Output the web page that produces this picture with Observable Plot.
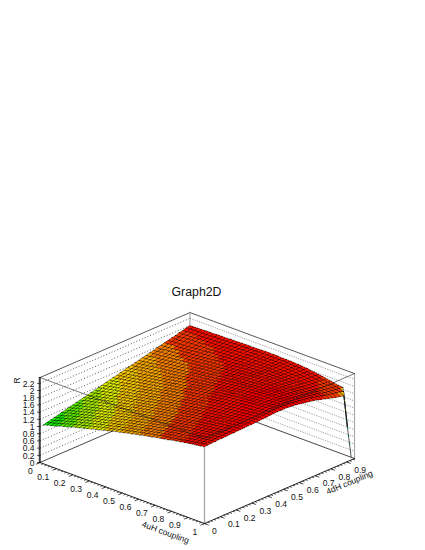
<!DOCTYPE html>
<html><head><meta charset="utf-8">
<style>html,body{margin:0;padding:0;background:#fff}</style>
<script src="https://cdn.jsdelivr.net/npm/d3@7"></script>
<script src="https://cdn.jsdelivr.net/npm/@observablehq/plot@0.6"></script>
</head><body><div id="chart"></div>
<script>
const title = "Graph2D";
const uTitle = "4uH coupling", vTitle = "4dH coupling", zTitle = "R";
const uMajor = [0,0.1,0.2,0.3,0.4,0.5,0.6,0.7,0.8,0.9,1];
const vMajor = [0,0.1,0.2,0.3,0.4,0.5,0.6,0.7,0.8,0.9];
const zMajor = [0,0.2,0.4,0.6,0.8,1,1.2,1.4,1.6,1.8,2,2.2];
const uMax = 1, vMax = 0.95, zMax = 2.36;
const uFirst = 0, uLast = 0.98, vFirst = 0.02, vLast = 0.95;
const levels = [0.115,0.23,0.345,0.46,0.575,0.69,0.805,0.92,1.035,1.15,1.265,1.38,1.495,1.61,1.725,1.84,1.955,2.07,2.185];
const palette = ["#6a00c8","#3c00e6","#0000ff","#0050ff","#0098ff","#00d8f0","#00f0b0","#00f070","#00f000","#18f000","#60f000","#a8f000","#e0f000","#f8c800","#f8a800","#f88000","#f83800","#f81000","#ff0000","#ff0000"];
// R: one row per 4uH grid step, one value per 4dH grid step
const R = [
[1.00,1.03,1.05,1.08,1.10,1.13,1.15,1.18,1.20,1.23,1.25,1.28,1.30,1.33,1.35,1.38,1.40,1.43,1.45,1.48,1.50,1.53,1.55,1.58,1.60,1.63,1.65,1.68,1.70,1.73,1.75,1.78,1.80,1.83,1.85,1.88,1.90,1.93,1.95,1.98,2.00],
[1.04,1.06,1.08,1.11,1.13,1.16,1.18,1.20,1.23,1.25,1.28,1.30,1.32,1.35,1.37,1.40,1.42,1.45,1.47,1.49,1.52,1.54,1.57,1.59,1.61,1.64,1.66,1.69,1.71,1.74,1.76,1.78,1.81,1.83,1.86,1.88,1.90,1.93,1.95,1.98,2.00],
[1.07,1.09,1.12,1.14,1.16,1.19,1.21,1.24,1.26,1.28,1.31,1.33,1.35,1.38,1.40,1.42,1.45,1.47,1.49,1.52,1.54,1.56,1.59,1.61,1.63,1.66,1.68,1.70,1.73,1.75,1.78,1.80,1.82,1.85,1.87,1.89,1.92,1.94,1.96,1.99,2.01],
[1.10,1.13,1.15,1.17,1.20,1.22,1.24,1.26,1.29,1.31,1.33,1.35,1.38,1.40,1.42,1.45,1.47,1.49,1.51,1.54,1.56,1.58,1.60,1.63,1.65,1.67,1.69,1.72,1.74,1.76,1.78,1.81,1.83,1.85,1.87,1.90,1.92,1.94,1.96,1.99,2.01],
[1.14,1.16,1.18,1.20,1.23,1.25,1.27,1.29,1.31,1.34,1.36,1.38,1.40,1.42,1.45,1.47,1.49,1.51,1.53,1.56,1.58,1.60,1.62,1.65,1.67,1.69,1.71,1.73,1.75,1.78,1.80,1.82,1.84,1.86,1.88,1.91,1.93,1.95,1.97,1.99,2.02],
[1.17,1.19,1.22,1.24,1.26,1.28,1.30,1.32,1.34,1.36,1.39,1.41,1.43,1.45,1.47,1.49,1.51,1.54,1.56,1.58,1.60,1.62,1.64,1.66,1.69,1.71,1.73,1.75,1.77,1.79,1.81,1.83,1.85,1.87,1.89,1.92,1.94,1.96,1.98,2.00,2.02],
[1.20,1.23,1.25,1.27,1.29,1.31,1.33,1.35,1.37,1.39,1.41,1.43,1.45,1.47,1.49,1.51,1.54,1.56,1.58,1.60,1.62,1.64,1.66,1.68,1.70,1.72,1.74,1.76,1.78,1.80,1.82,1.84,1.86,1.88,1.90,1.92,1.94,1.96,1.98,2.00,2.02],
[1.24,1.26,1.28,1.30,1.32,1.34,1.36,1.38,1.40,1.42,1.44,1.46,1.48,1.50,1.52,1.54,1.56,1.58,1.60,1.62,1.64,1.66,1.68,1.70,1.72,1.74,1.76,1.78,1.80,1.82,1.84,1.86,1.88,1.89,1.91,1.93,1.95,1.97,1.99,2.01,2.03],
[1.27,1.29,1.31,1.33,1.35,1.37,1.39,1.41,1.42,1.44,1.46,1.48,1.50,1.52,1.54,1.56,1.58,1.60,1.62,1.64,1.66,1.68,1.70,1.72,1.74,1.75,1.77,1.79,1.81,1.83,1.85,1.87,1.88,1.90,1.92,1.94,1.96,1.98,1.99,2.01,2.03],
[1.30,1.32,1.34,1.36,1.38,1.39,1.41,1.43,1.45,1.47,1.49,1.51,1.53,1.55,1.56,1.58,1.60,1.62,1.64,1.66,1.68,1.70,1.71,1.73,1.75,1.77,1.79,1.80,1.82,1.84,1.86,1.87,1.89,1.91,1.92,1.94,1.96,1.98,1.99,2.01,2.03],
[1.33,1.35,1.37,1.39,1.41,1.42,1.44,1.46,1.48,1.50,1.52,1.53,1.55,1.57,1.59,1.61,1.63,1.64,1.66,1.68,1.70,1.72,1.73,1.75,1.77,1.79,1.80,1.82,1.84,1.85,1.87,1.89,1.90,1.92,1.94,1.95,1.97,1.98,2.00,2.02,2.04],
[1.36,1.38,1.40,1.42,1.43,1.45,1.47,1.49,1.51,1.52,1.54,1.56,1.58,1.59,1.61,1.63,1.65,1.67,1.68,1.70,1.72,1.74,1.75,1.77,1.79,1.80,1.82,1.84,1.85,1.87,1.88,1.90,1.91,1.93,1.95,1.96,1.98,1.99,2.01,2.02,2.04],
[1.39,1.41,1.43,1.44,1.46,1.48,1.50,1.51,1.53,1.55,1.56,1.58,1.60,1.62,1.63,1.65,1.67,1.69,1.70,1.72,1.74,1.75,1.77,1.79,1.80,1.82,1.83,1.85,1.86,1.88,1.89,1.91,1.92,1.94,1.95,1.97,1.98,2.00,2.01,2.03,2.04],
[1.42,1.44,1.46,1.47,1.49,1.51,1.52,1.54,1.56,1.57,1.59,1.61,1.62,1.64,1.66,1.67,1.69,1.71,1.72,1.74,1.76,1.77,1.79,1.81,1.82,1.84,1.85,1.87,1.88,1.89,1.91,1.92,1.93,1.95,1.96,1.97,1.99,2.00,2.02,2.03,2.05],
[1.45,1.47,1.48,1.50,1.52,1.53,1.55,1.57,1.58,1.60,1.62,1.63,1.65,1.66,1.68,1.70,1.71,1.73,1.75,1.76,1.78,1.80,1.81,1.83,1.84,1.86,1.87,1.88,1.90,1.91,1.92,1.93,1.95,1.96,1.97,1.98,2.00,2.01,2.02,2.04,2.05],
[1.48,1.50,1.51,1.53,1.54,1.56,1.58,1.59,1.61,1.62,1.64,1.66,1.67,1.69,1.70,1.72,1.73,1.75,1.77,1.78,1.80,1.81,1.83,1.84,1.86,1.87,1.88,1.89,1.91,1.92,1.93,1.94,1.96,1.97,1.98,1.99,2.00,2.01,2.03,2.04,2.05],
[1.51,1.52,1.54,1.55,1.57,1.59,1.60,1.62,1.63,1.65,1.66,1.68,1.69,1.71,1.72,1.74,1.76,1.77,1.79,1.80,1.82,1.83,1.85,1.86,1.87,1.89,1.90,1.91,1.92,1.93,1.94,1.95,1.96,1.97,1.98,1.99,2.00,2.02,2.03,2.04,2.05],
[1.54,1.55,1.57,1.58,1.60,1.61,1.63,1.64,1.66,1.67,1.69,1.70,1.72,1.73,1.75,1.76,1.78,1.79,1.81,1.82,1.84,1.85,1.86,1.88,1.89,1.90,1.91,1.92,1.93,1.94,1.95,1.96,1.97,1.98,1.99,2.00,2.01,2.02,2.03,2.04,2.05],
[1.57,1.58,1.59,1.61,1.62,1.64,1.65,1.67,1.68,1.70,1.71,1.73,1.74,1.75,1.77,1.78,1.80,1.81,1.83,1.84,1.86,1.87,1.88,1.89,1.91,1.92,1.93,1.94,1.95,1.96,1.97,1.98,1.98,1.99,2.00,2.01,2.02,2.03,2.04,2.05,2.06],
[1.59,1.61,1.62,1.63,1.65,1.66,1.68,1.69,1.70,1.72,1.73,1.75,1.76,1.78,1.79,1.80,1.82,1.83,1.85,1.86,1.88,1.89,1.90,1.91,1.92,1.93,1.94,1.95,1.96,1.97,1.98,1.98,1.99,2.00,2.00,2.01,2.02,2.03,2.04,2.05,2.06],
[1.62,1.63,1.65,1.66,1.67,1.69,1.70,1.71,1.73,1.74,1.76,1.77,1.78,1.80,1.81,1.82,1.84,1.85,1.87,1.88,1.90,1.91,1.92,1.93,1.94,1.95,1.96,1.97,1.97,1.98,1.99,1.99,2.00,2.01,2.01,2.02,2.02,2.03,2.04,2.05,2.06],
[1.65,1.66,1.67,1.68,1.70,1.71,1.72,1.74,1.75,1.77,1.78,1.79,1.81,1.82,1.83,1.85,1.86,1.87,1.89,1.90,1.92,1.93,1.94,1.95,1.96,1.97,1.97,1.98,1.99,1.99,2.00,2.00,2.01,2.01,2.02,2.02,2.03,2.04,2.04,2.05,2.06],
[1.67,1.68,1.70,1.71,1.72,1.74,1.75,1.76,1.78,1.79,1.80,1.81,1.83,1.84,1.85,1.87,1.88,1.89,1.91,1.92,1.93,1.94,1.95,1.96,1.97,1.98,1.99,1.99,2.00,2.01,2.01,2.01,2.02,2.02,2.02,2.03,2.03,2.04,2.04,2.05,2.06],
[1.70,1.71,1.72,1.73,1.75,1.76,1.77,1.78,1.80,1.81,1.82,1.83,1.85,1.86,1.87,1.89,1.90,1.91,1.92,1.94,1.95,1.96,1.97,1.98,1.99,2.00,2.00,2.01,2.01,2.01,2.02,2.02,2.02,2.02,2.03,2.03,2.03,2.04,2.04,2.05,2.05],
[1.72,1.73,1.75,1.76,1.77,1.78,1.79,1.81,1.82,1.83,1.84,1.86,1.87,1.88,1.89,1.91,1.92,1.93,1.95,1.96,1.97,1.98,1.99,2.00,2.00,2.01,2.02,2.02,2.03,2.03,2.03,2.03,2.03,2.03,2.03,2.03,2.04,2.04,2.04,2.05,2.05],
[1.75,1.76,1.77,1.78,1.79,1.81,1.82,1.83,1.84,1.85,1.87,1.88,1.89,1.90,1.91,1.93,1.94,1.95,1.96,1.98,1.99,2.00,2.01,2.01,2.02,2.03,2.03,2.03,2.04,2.04,2.04,2.04,2.04,2.04,2.04,2.04,2.04,2.04,2.05,2.05,2.05],
[1.77,1.78,1.79,1.80,1.82,1.83,1.84,1.85,1.86,1.87,1.88,1.90,1.91,1.92,1.93,1.94,1.95,1.97,1.98,1.99,2.00,2.01,2.02,2.02,2.03,2.04,2.04,2.04,2.04,2.04,2.05,2.04,2.04,2.04,2.04,2.03,2.03,2.04,2.04,2.04,2.04],
[1.79,1.80,1.82,1.83,1.84,1.85,1.86,1.87,1.88,1.89,1.91,1.92,1.93,1.94,1.95,1.96,1.97,1.99,2.00,2.01,2.02,2.03,2.03,2.04,2.05,2.05,2.05,2.05,2.05,2.05,2.05,2.05,2.05,2.04,2.04,2.03,2.03,2.03,2.03,2.03,2.04],
[1.82,1.83,1.84,1.85,1.86,1.87,1.88,1.89,1.90,1.91,1.93,1.94,1.95,1.96,1.97,1.98,1.99,2.00,2.01,2.03,2.04,2.04,2.05,2.06,2.06,2.07,2.07,2.06,2.06,2.06,2.06,2.06,2.05,2.04,2.04,2.03,2.03,2.03,2.03,2.03,2.03],
[1.84,1.85,1.86,1.87,1.88,1.89,1.90,1.91,1.92,1.93,1.94,1.95,1.96,1.97,1.98,1.99,2.01,2.02,2.03,2.04,2.05,2.06,2.06,2.06,2.07,2.07,2.07,2.07,2.07,2.06,2.06,2.05,2.05,2.04,2.03,2.03,2.02,2.02,2.02,2.02,2.02],
[1.86,1.87,1.88,1.89,1.90,1.91,1.92,1.93,1.94,1.95,1.96,1.97,1.98,1.99,2.00,2.01,2.02,2.03,2.04,2.05,2.06,2.07,2.07,2.07,2.08,2.08,2.08,2.07,2.07,2.07,2.06,2.05,2.05,2.04,2.03,2.02,2.02,2.01,2.01,2.00,2.00],
[1.88,1.89,1.90,1.91,1.92,1.93,1.94,1.95,1.96,1.97,1.98,1.99,1.99,2.00,2.01,2.02,2.03,2.04,2.05,2.06,2.08,2.08,2.08,2.08,2.09,2.09,2.08,2.08,2.07,2.07,2.06,2.05,2.04,2.03,2.02,2.01,2.01,2.00,2.00,1.99,1.99],
[1.91,1.91,1.92,1.93,1.94,1.95,1.96,1.97,1.98,1.98,1.99,2.00,2.01,2.02,2.03,2.04,2.05,2.06,2.07,2.08,2.09,2.09,2.09,2.09,2.10,2.10,2.09,2.08,2.08,2.07,2.06,2.05,2.04,2.03,2.02,2.00,2.00,1.99,1.98,1.98,1.97],
[1.93,1.93,1.94,1.95,1.96,1.97,1.98,1.98,1.99,2.00,2.01,2.02,2.03,2.03,2.04,2.05,2.06,2.07,2.08,2.09,2.10,2.10,2.10,2.10,2.10,2.10,2.09,2.09,2.08,2.07,2.06,2.05,2.03,2.02,2.01,1.99,1.98,1.97,1.97,1.96,1.95],
[1.95,1.95,1.96,1.97,1.98,1.98,1.99,2.00,2.01,2.02,2.02,2.03,2.04,2.05,2.05,2.06,2.07,2.08,2.09,2.10,2.11,2.11,2.11,2.11,2.11,2.11,2.10,2.09,2.08,2.07,2.06,2.04,2.03,2.01,1.99,1.98,1.97,1.96,1.95,1.94,1.93],
[1.97,1.97,1.98,1.99,1.99,2.00,2.01,2.02,2.02,2.03,2.04,2.05,2.05,2.06,2.07,2.07,2.08,2.09,2.10,2.11,2.12,2.12,2.12,2.11,2.11,2.11,2.10,2.09,2.08,2.07,2.06,2.04,2.02,2.00,1.98,1.97,1.96,1.94,1.93,1.92,1.91],
[1.99,1.99,2.00,2.01,2.01,2.02,2.03,2.03,2.04,2.05,2.05,2.06,2.07,2.07,2.08,2.09,2.10,2.10,2.11,2.12,2.13,2.13,2.12,2.12,2.12,2.12,2.10,2.09,2.08,2.07,2.05,2.03,2.01,1.99,1.97,1.95,1.94,1.93,1.92,1.90,1.89],
[2.01,2.01,2.02,2.02,2.03,2.04,2.04,2.05,2.05,2.06,2.07,2.07,2.08,2.09,2.09,2.10,2.11,2.12,2.12,2.13,2.14,2.14,2.13,2.13,2.13,2.12,2.11,2.09,2.08,2.07,2.05,2.03,2.01,1.99,1.96,1.94,1.93,1.91,1.90,1.88,1.87],
[2.02,2.03,2.03,2.04,2.05,2.05,2.06,2.07,2.07,2.08,2.08,2.09,2.10,2.10,2.11,2.11,2.12,2.13,2.14,2.14,2.15,2.15,2.15,2.14,2.14,2.13,2.11,2.10,2.08,2.07,2.05,2.03,2.01,1.98,1.96,1.93,1.92,1.90,1.89,1.87,1.86],
[2.04,2.05,2.05,2.06,2.06,2.07,2.07,2.08,2.08,2.09,2.10,2.10,2.11,2.11,2.12,2.12,2.13,2.14,2.14,2.15,2.16,2.16,2.16,2.15,2.15,2.13,2.12,2.10,2.08,2.07,2.05,2.02,2.00,1.97,1.94,1.92,1.90,1.88,1.86,1.83,0.80],
[2.06,2.06,2.07,2.07,2.08,2.08,2.08,2.09,2.09,2.10,2.10,2.10,2.11,2.11,2.12,2.12,2.13,2.13,2.14,2.15,2.15,2.15,2.15,2.14,2.13,2.12,2.10,2.08,2.06,2.04,2.02,1.99,1.96,1.93,1.90,1.87,1.84,1.82,1.79,0.90,0.00]
];

const px = (u, v) => 39.5 + 164.5 * u + 157.9 * v;
const py = (u, v, z) => 462 + 61 * u - 68.4 * v - 36 * z;
const pt = (u, v, z) => ({x: px(u, v), y: py(u, v, z)});
const seg = (a, b) => [pt(...a), pt(...b)];
const n = R.length - 1, m = R[0].length - 1;
const uAt = i => uFirst + (uLast - uFirst) * i / n;
const vAt = j => vFirst + (vLast - vFirst) * j / m;

const cells = [];
for (let i = 0; i < n; i++) for (let j = m - 1; j >= 0; j--) {
  const value = (R[i][j] + R[i+1][j] + R[i][j+1] + R[i+1][j+1]) / 4;
  const id = i * 1000 + j;
  for (const [a, b] of [[i,j],[i+1,j],[i+1,j+1],[i,j+1],[i,j]]) {
    cells.push({id, value, ...pt(uAt(a), vAt(b), R[a][b])});
  }
}
const line = (pts, o) => Plot.line(pts, {x: "x", y: "y", ...o});
const link = (rows, o) => Plot.link(rows, {x1: "x1", y1: "y1", x2: "x2", y2: "y2", ...o});
const leftGrid = zMajor.slice(1).map(z => ({x1: px(0,0), y1: py(0,0,z), x2: px(0,vMax), y2: py(0,vMax,z)}));
const rightGrid = zMajor.slice(1).map(z => ({x1: px(0,vMax), y1: py(0,vMax,z), x2: px(uMax,vMax), y2: py(uMax,vMax,z)}));
const uTick = (u, len) => ({x1: px(u,0), y1: py(u,0,0), x2: px(u,-len), y2: py(u,-len,0)});
const vTick = (v, len) => ({x1: px(uMax,v), y1: py(uMax,v,0), x2: px(uMax+len,v), y2: py(uMax+len,v,0)});
const zTick = (z, len) => ({x1: px(0,0), y1: py(0,0,z), x2: px(0,0) - len, y2: py(0,0,z)});
const minor = (lo, hi, st) => d3.range(Math.round((hi - lo) / st) + 1).map(k => lo + k * st);

const font = {fontFamily: "'Liberation Sans', Arimo, Helvetica, Arial, sans-serif"};
const chart = Plot.plot({
  width: 425, height: 550, margin: 0,
  x: {domain: [0, 425], range: [0, 425], axis: null},
  y: {domain: [0, 550], range: [0, 550], axis: null},
  color: {type: "threshold", domain: levels, range: palette},
  style: {background: "#fff", ...font},
  marks: [
    link(leftGrid, {stroke: "#333", strokeWidth: 0.8, strokeDasharray: "1,2"}),
    link(rightGrid, {stroke: "#888", strokeWidth: 0.8, strokeDasharray: "1.2,1.2"}),
    line(seg([0,0,zMax],[0,vMax,zMax]), {stroke: "#444", strokeWidth: 0.9}),
    line(seg([0,vMax,zMax],[uMax,vMax,zMax]), {stroke: "#444", strokeWidth: 0.9}),
    line(seg([0,vMax,0],[0,vMax,zMax]), {stroke: "#999", strokeWidth: 1}),
    line(seg([uMax,vMax,0],[uMax,vMax,zMax]), {stroke: "#aaa", strokeWidth: 1.2}),
    line(seg([0,0,0],[0,vMax,0]), {stroke: "#333", strokeWidth: 0.9}),
    line(seg([0,vMax,0],[uMax,vMax,0]), {stroke: "#333", strokeWidth: 0.9}),
    line(seg([uMax,0,0],[uMax,0,zMax]), {stroke: "#aaa", strokeWidth: 1.4}),
    Plot.line(cells, {x: "x", y: "y", z: "id", fill: "value", stroke: "#000", strokeWidth: 0.6, strokeOpacity: 0.6, shapeRendering: "crispEdges"}),
    line(seg([0,0,zMax],[uMax,0,zMax]), {stroke: "#222", strokeWidth: 0.8, strokeOpacity: 0.75}),
    line(seg([uMax,0,zMax],[uMax,vMax,zMax]), {stroke: "#222", strokeWidth: 0.8, strokeOpacity: 0.75}),
    line(seg([0,0,0],[uMax,0,0]), {stroke: "#111", strokeWidth: 0.9}),
    line(seg([uMax,0,0],[uMax,vMax,0]), {stroke: "#111", strokeWidth: 0.9}),
    line(seg([0,0,0],[0,0,zMax]), {stroke: "#000", strokeWidth: 1.2}),
    link(minor(0,1,0.02).map(u => uTick(u, 0.013)), {stroke: "#111", strokeWidth: 0.7}),
    link(uMajor.map(u => uTick(u, 0.026)), {stroke: "#111", strokeWidth: 0.7}),
    link(minor(0,0.94,0.02).map(v => vTick(v, 0.013)), {stroke: "#111", strokeWidth: 0.7}),
    link(vMajor.map(v => vTick(v, 0.026)), {stroke: "#111", strokeWidth: 0.7}),
    link(minor(0,2.36,0.04).map(z => zTick(z, 1.5)), {stroke: "#111", strokeWidth: 0.6}),
    link(zMajor.map(z => zTick(z, 3)), {stroke: "#111", strokeWidth: 0.7}),
    Plot.text(uMajor, {x: u => px(u,0) - 7.3, y: u => py(u,0,0) + 8.3, text: d => String(d), textAnchor: "end", fontSize: 8.5, fill: "#111"}),
    Plot.text(vMajor, {x: v => px(uMax,v) + 7.6, y: v => py(uMax,v,0) + 8, text: d => String(d), textAnchor: "start", fontSize: 8.5, fill: "#111"}),
    Plot.text(zMajor, {x: () => 34, y: z => py(0,0,z) + 0.5, text: d => String(d), textAnchor: "end", fontSize: 8.5, fill: "#111"}),
    Plot.text([uTitle], {x: () => 165, y: () => 532, text: d => d, rotate: 20, fontSize: 8.5, fill: "#111"}),
    Plot.text([vTitle], {x: () => 349, y: () => 482, text: d => d, rotate: -23, fontSize: 8.5, fill: "#111"}),
    Plot.text([zTitle], {x: () => 17, y: () => 380, text: d => d, rotate: -90, fontSize: 8.5, fill: "#111"}),
    Plot.text([title], {x: () => 196, y: () => 291.5, text: d => d, fontSize: 12.3, fill: "#111"})
  ]
});
document.getElementById("chart").append(chart);
</script></body></html>
